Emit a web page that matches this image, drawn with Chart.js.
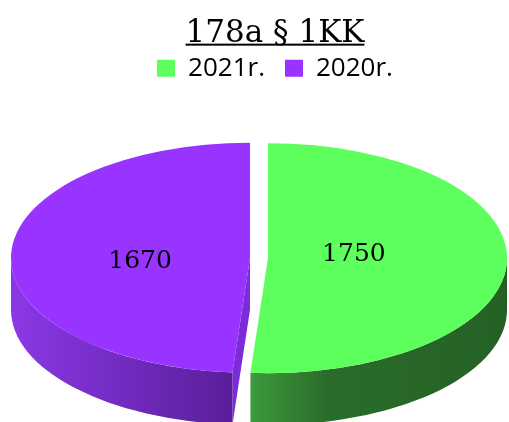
<!DOCTYPE html>
<html><head><meta charset="utf-8">
<script src="https://cdn.jsdelivr.net/npm/chart.js@4"></script>
<style>html,body{margin:0;padding:0;background:#fff}canvas{display:block}</style>
</head><body>
<canvas id="c" width="509" height="422"></canvas>
<script>
const categories = ['2021r.', '2020r.'];
const values = [1750, 1670];
const topColors = ['#5cff5c', '#9933ff'];
const chartTitle = '178a § 1KK';

const LOOK = {
  cx: 259, cy: 258, rx: 239, ry: 115, depth: 52, explode: 9,
  wall: [
    [[0, '#3c9a3c'], [0.3, '#2a6c2a'], [1, '#256125']],
    [[0, '#8b38e6'], [1, '#5a1e9a']]
  ],
  cut: ['#2a6d2a', '#7b2bd8'],
  labelK: 0.41, labelDx: -12, labelTilt: 5,
  labelFont: '25px "DejaVu Serif"'
};

const pie3d = {
  id: 'pie3d',
  beforeDatasetsDraw(chart) {
    const ctx = chart.ctx;
    const L = LOOK;
    const meta = chart.getDatasetMeta(0);
    const shapes = meta.data.map((el, i) => {
      const a0 = el.startAngle, a1 = el.endAngle, mid = (a0 + a1) / 2;
      return { i, a0, a1, mid,
        x: L.cx + Math.cos(mid) * L.explode,
        y: L.cy + Math.sin(mid) * L.explode * L.ry / L.rx };
    });
    ctx.save();
    shapes.forEach(s => {
      const edges = [];
      if (Math.cos(s.a0) < -1e-6) edges.push(s.a0);
      if (Math.cos(s.a1) > 1e-6) edges.push(s.a1);
      edges.forEach(a => {
        const ex = s.x + L.rx * Math.cos(a), ey = s.y + L.ry * Math.sin(a);
        ctx.beginPath();
        ctx.moveTo(s.x, s.y);
        ctx.lineTo(ex, ey);
        ctx.lineTo(ex, ey + L.depth);
        ctx.lineTo(s.x, s.y + L.depth);
        ctx.closePath();
        ctx.fillStyle = L.cut[s.i];
        ctx.fill();
      });
      const lo = Math.max(s.a0, 0), hi = Math.min(s.a1, Math.PI);
      if (hi > lo) {
        const xa = s.x + L.rx * Math.cos(lo), xb = s.x + L.rx * Math.cos(hi);
        const g = ctx.createLinearGradient(Math.min(xa, xb), 0, Math.max(xa, xb), 0);
        L.wall[s.i].forEach(([p, c]) => g.addColorStop(p, c));
        ctx.beginPath();
        ctx.ellipse(s.x, s.y, L.rx, L.ry, 0, lo, hi, false);
        ctx.ellipse(s.x, s.y + L.depth, L.rx, L.ry, 0, hi, lo, true);
        ctx.closePath();
        ctx.fillStyle = g;
        ctx.fill();
      }
      ctx.beginPath();
      ctx.moveTo(s.x, s.y);
      ctx.ellipse(s.x, s.y, L.rx, L.ry, 0, s.a0, s.a1, false);
      ctx.closePath();
      ctx.fillStyle = chart.data.datasets[0].backgroundColor[s.i];
      ctx.fill();
    });
    ctx.font = L.labelFont;
    ctx.fillStyle = '#000';
    ctx.textAlign = 'center';
    ctx.textBaseline = 'middle';
    shapes.forEach(s => {
      const v = chart.data.datasets[0].data[s.i];
      const lx = s.x + Math.cos(s.mid) * L.rx * L.labelK + L.labelDx;
      const ly = s.y + Math.sin(s.mid) * L.ry * L.labelK - Math.cos(s.mid) * L.labelTilt;
      ctx.fillText(String(v), lx, ly);
    });
    ctx.restore();
    return false;
  },
  afterDraw(chart) {
    const t = chart.titleBlock;
    if (!t) return;
    const ctx = chart.ctx;
    const opts = chart.options.plugins.title;
    const size = opts.font.size, lh = size * 1.2;
    const yMid = t.top + opts.padding.top + lh / 2;
    ctx.save();
    ctx.font = size + 'px ' + opts.font.family;
    ctx.textBaseline = 'middle';
    const m1 = ctx.measureText('1');
    const baseline = yMid + m1.actualBoundingBoxDescent;
    const w = ctx.measureText(chartTitle).width;
    const cx = (t.left + t.right) / 2;
    ctx.fillStyle = '#000';
    ctx.fillRect(cx - w / 2, baseline + 2, w, 2);
    ctx.restore();
  }
};

new Chart(document.getElementById('c'), {
  type: 'pie',
  data: {
    labels: categories,
    datasets: [{ data: values, backgroundColor: topColors, borderWidth: 0 }]
  },
  options: {
    responsive: false,
    animation: false,
    devicePixelRatio: 1,
    layout: { padding: { left: 41, right: 0, top: 0, bottom: 0 } },
    plugins: {
      title: {
        display: true, text: chartTitle, color: '#000',
        font: { family: '"DejaVu Serif"', size: 31, weight: 'normal' },
        padding: { top: 15, bottom: -17 }
      },
      legend: {
        display: true, position: 'top',
        labels: {
          color: '#000', boxWidth: 18, boxHeight: 17, padding: 20,
          font: { family: '"Open Sans"', size: 26 }
        }
      },
      tooltip: { enabled: false }
    }
  },
  plugins: [pie3d]
});
</script>
</body></html>
